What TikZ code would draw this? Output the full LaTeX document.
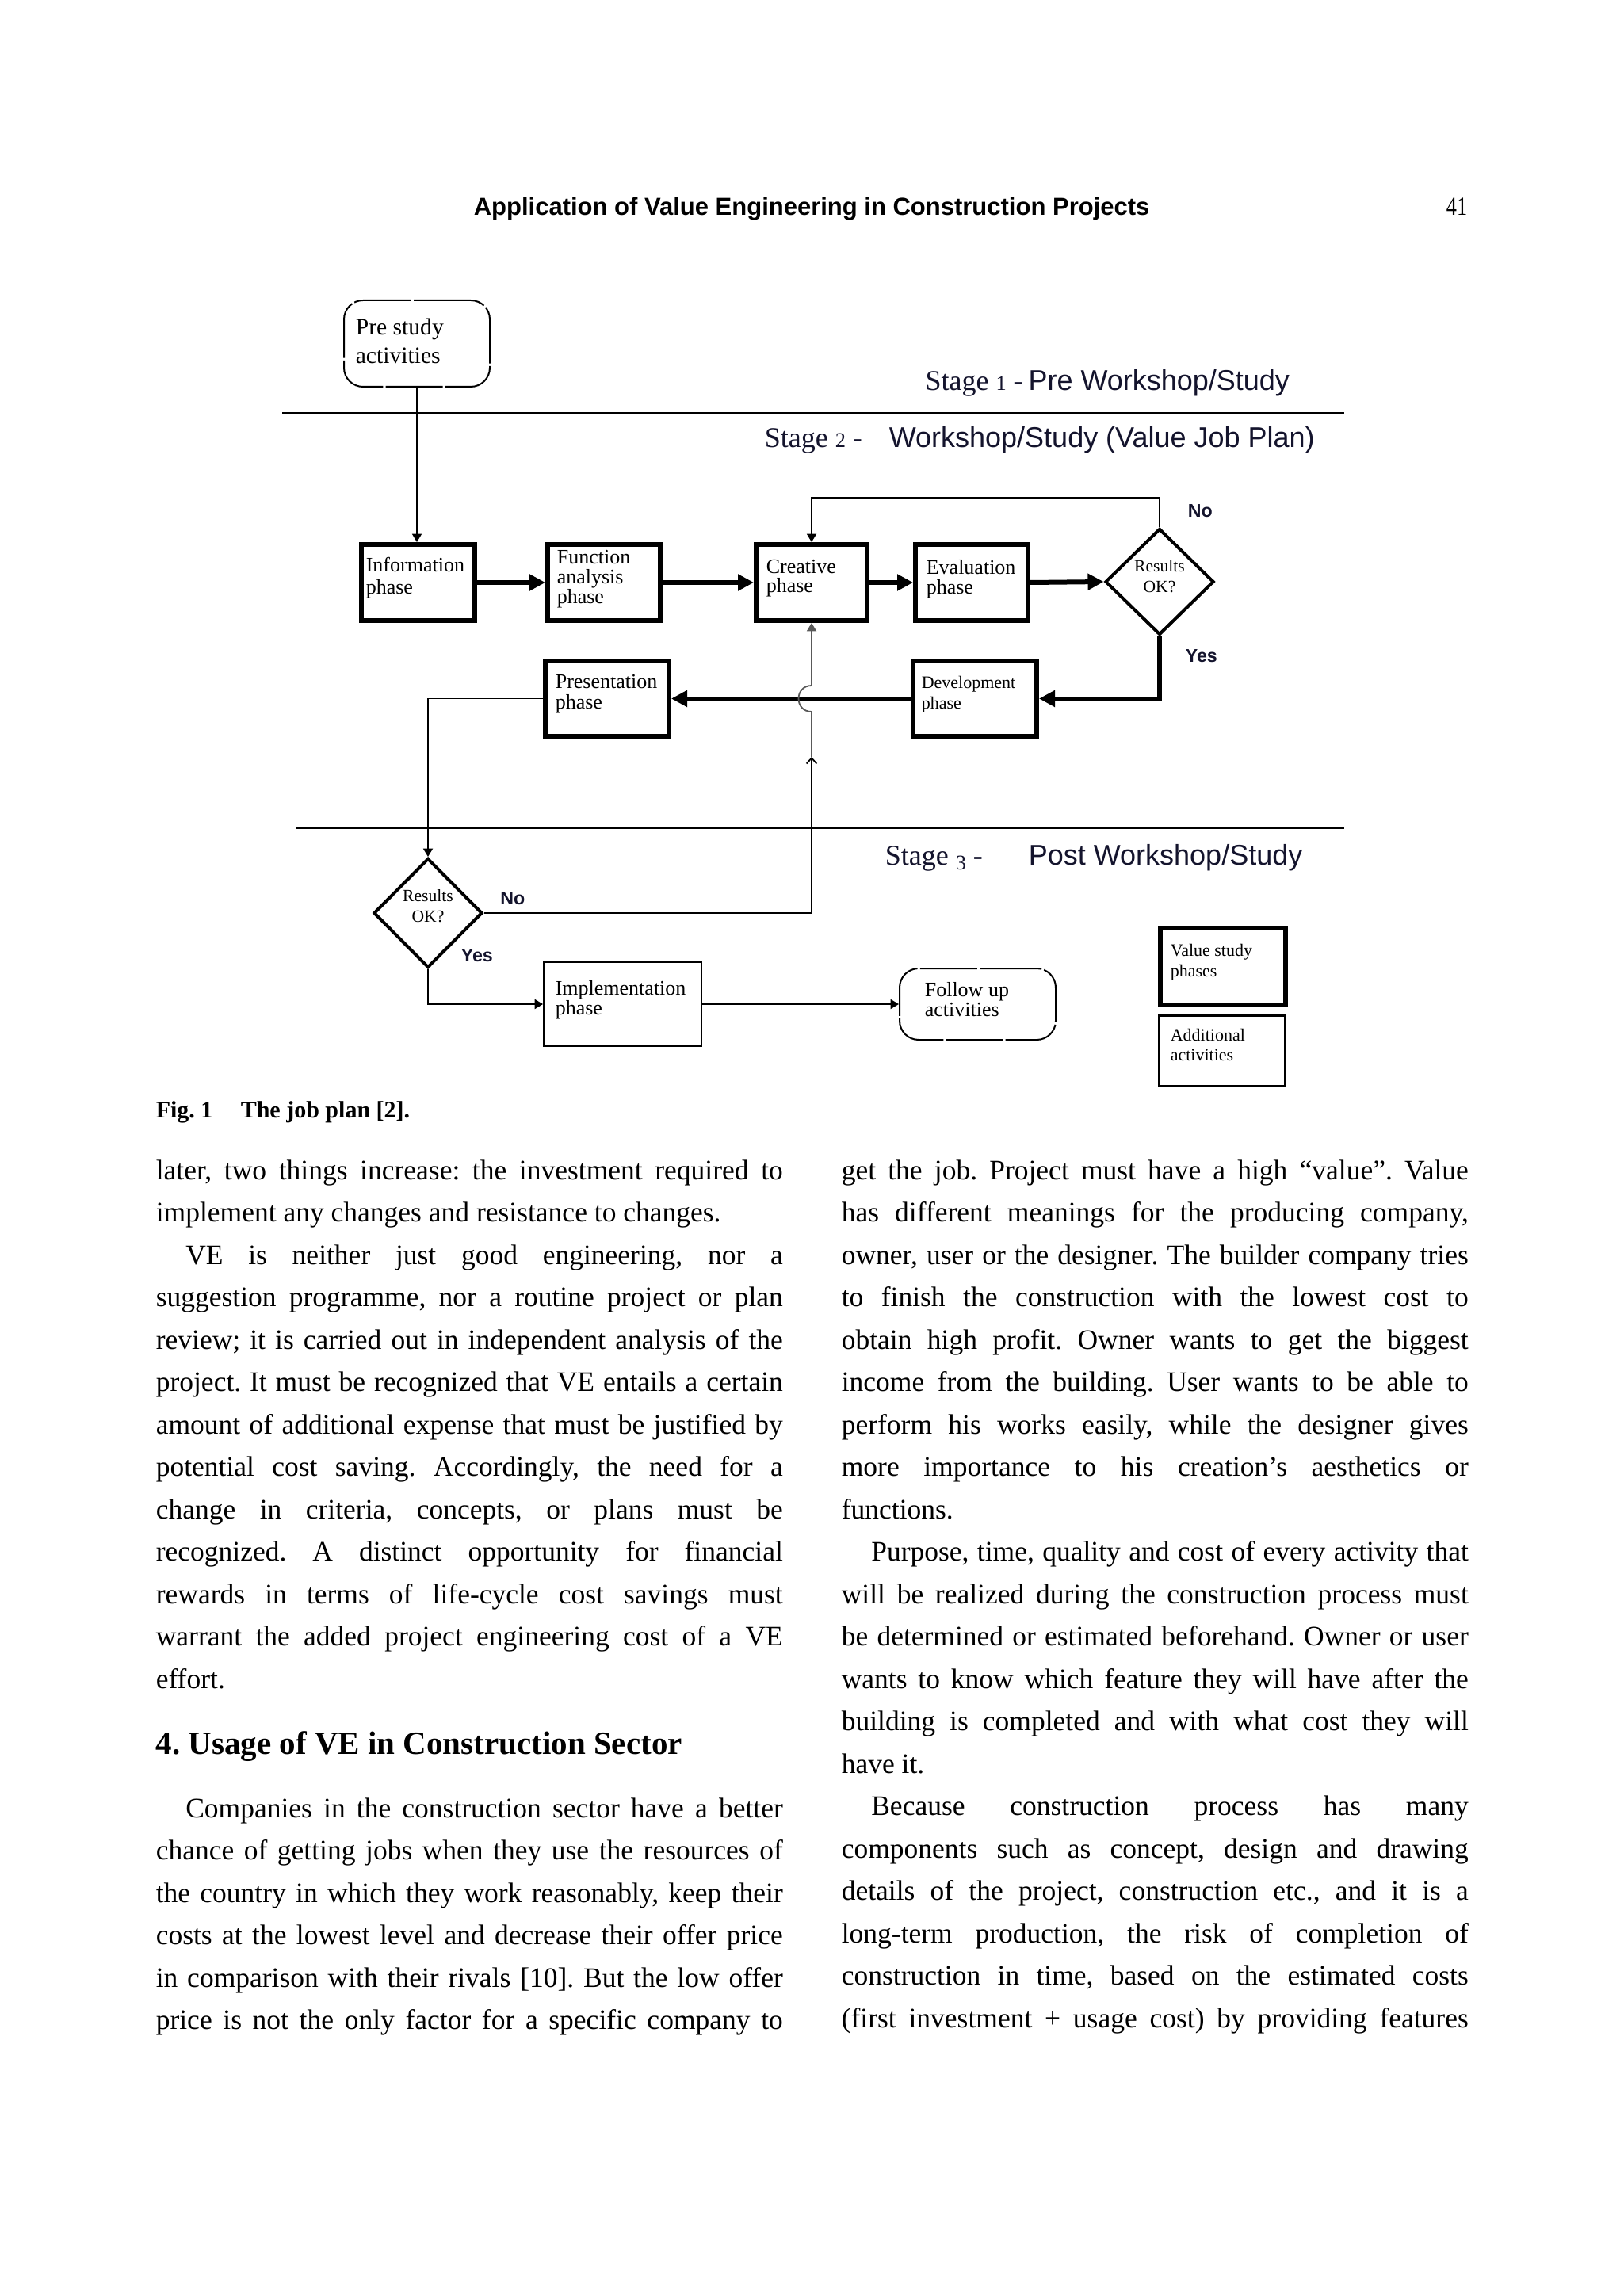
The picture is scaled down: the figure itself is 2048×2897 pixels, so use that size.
\documentclass[tikz,border=0pt]{standalone}
\usepackage{fontspec}
\usepackage{graphicx}
\setmainfont{Liberation Serif}
\newfontfamily\arialf{Liberation Sans}
\usetikzlibrary{arrows.meta,shapes.geometric}
\frenchspacing
\newcommand{\oldn}[1]{{\fontsize{6.6pt}{7pt}\selectfont #1}}
\newcommand{\Jline}[4]{\node[bodyt] (#1) at (#2,#3) {\makebox[197.75pt][s]{#4}};}
\newcommand{\Iline}[4]{\node[bodyt] (#1) at ({#2+37.5},#3) {\makebox[188.375pt][s]{#4}};}
\newcommand{\Eline}[4]{\node[bodyt] (#1) at (#2,#3) {#4};}
\begin{document}
\begin{tikzpicture}[x=0.25pt,y=-0.25pt,
  tbox/.style={draw, line width=1.4pt, inner sep=0pt},
  nbox/.style={draw, line width=0.6pt, inner sep=0pt},
  rbox/.style={draw, line width=0.5pt, inner sep=0pt, rounded corners=6pt, dash pattern=on 18pt off 0.8pt},
  dia/.style={draw, shape=diamond, line width=1pt, inner sep=0pt},
  thickarr/.style={line width=1.5pt, -{Triangle[length=5pt,width=5pt]}},
  thinarr/.style={line width=0.45pt, -{Triangle[length=2.6pt,width=3pt]}},
  stageline/.style={line width=0.6pt},
  bx/.style={anchor=base west, inner sep=0pt, font=\fontsize{6.5pt}{7pt}\selectfont},
  sbx/.style={anchor=base west, inner sep=0pt, font=\fontsize{5.5pt}{6pt}\selectfont},
  rx/.style={anchor=base, inner sep=0pt, font=\fontsize{5.4pt}{6pt}\selectfont},
  yn/.style={anchor=base west, inner sep=0pt, font=\arialf\bfseries\fontsize{5.8pt}{6pt}\selectfont, text={rgb,255:red,20;green,20;blue,45}},
  stg/.style={anchor=base west, inner sep=0pt, font=\fontsize{9pt}{10pt}\selectfont, text={rgb,255:red,20;green,20;blue,45}},
  stgs/.style={anchor=base west, inner sep=0pt, font=\arialf\fontsize{9pt}{10pt}\selectfont, text={rgb,255:red,20;green,20;blue,45}},
  bodyt/.style={anchor=base west, inner sep=0pt, font=\fontsize{8.875pt}{10pt}\selectfont}
]
\useasboundingbox (0,0) rectangle (2048,2897);
\fill[white] (0,0) rectangle (2048,2897);

% header
\node[anchor=base west, inner sep=0pt, font=\arialf\bfseries\fontsize{7.75pt}{8pt}\selectfont] (hdr) at (597,272) {Application of Value Engineering in Construction Projects};
\node[anchor=base east, inner sep=0pt, font=\fontsize{8.2pt}{9pt}\selectfont] (pg) at (1852,272) {\scalebox{0.8}[1]{41}};

% stage lines
\coordinate (s1a) at (356,521);
\coordinate (s1b) at (1696,521);
\coordinate (s3a) at (373,1045);
\coordinate (s3b) at (1696,1045);
\draw[stageline] (s1a) -- (s1b);
\draw[stageline] (s3a) -- (s3b);

% stage texts
\node[stg] (st1a) at (1166.7,493) {Stage \oldn{1} -};
\node[stgs] (st1b) at (1296.7,493) {Pre Workshop/Study};
\node[stg] (st2a) at (964,565) {Stage \oldn{2} -};
\node[stgs] (st2b) at (1121,565) {Workshop/Study (Value Job Plan)};
\node[stg] (st3a) at (1116,1091) {Stage \raisebox{-1.6pt}{\oldn{3}} -};
\node[stgs] (st3b) at (1297,1091) {Post Workshop/Study};

% boxes
\node[rbox, minimum width=46pt, minimum height=27.25pt] (pre) at (526,433.5) {};
\node[tbox, minimum width=35.85pt, minimum height=24.1pt] (info) at (527.5,735) {};
\node[tbox, minimum width=35.6pt, minimum height=24.1pt] (func) at (762,735) {};
\node[tbox, minimum width=35.1pt, minimum height=24.1pt] (crea) at (1024,735) {};
\node[tbox, minimum width=35.6pt, minimum height=24.1pt] (eval) at (1226,735) {};
\node[dia, minimum width=34.25pt, minimum height=33.5pt] (d1) at (1463,734) {};
\node[tbox, minimum width=39.1pt, minimum height=23.85pt] (pres) at (766,881.5) {};
\node[tbox, minimum width=39.1pt, minimum height=23.85pt] (dev) at (1230,881.5) {};
\node[dia, minimum width=34.25pt, minimum height=34.5pt] (d2) at (540,1152) {};
\node[nbox, minimum width=49.6pt, minimum height=26.4pt] (impl) at (785.5,1267) {};
\node[rbox, minimum width=49.25pt, minimum height=22.5pt] (foll) at (1233.5,1267) {};
\node[tbox, minimum width=39.6pt, minimum height=24.35pt] (leg1) at (1543,1219.5) {};
\node[nbox, minimum width=39.6pt, minimum height=22.1pt] (leg2) at (1541.5,1325.5) {};

% box texts
\node[bx, font=\fontsize{7.4pt}{8pt}\selectfont] (t1) at (448,423) {Pre study};
\node[bx, font=\fontsize{7.4pt}{8pt}\selectfont] (t2) at (448,459) {activities};
\node[bx] (t3) at (461,722) {Information};
\node[bx] (t4) at (461,750) {phase};
\node[bx] (t5) at (702,712) {Function};
\node[bx] (t6) at (702,737) {analysis};
\node[bx] (t7) at (702,762) {phase};
\node[bx] (t8) at (966,724) {Creative};
\node[bx] (t9) at (966,748) {phase};
\node[bx] (t10) at (1168,725) {Evaluation};
\node[bx] (t11) at (1168,750) {phase};
\node[rx] (t12) at (1463,722) {Results};
\node[rx] (t13) at (1463,748) {OK?};
\node[bx] (t14) at (700,869) {Presentation};
\node[bx] (t15) at (700,894) {phase};
\node[sbx] (t16) at (1162,869) {Development};
\node[sbx] (t17) at (1162,894) {phase};
\node[rx] (t18) at (540,1137) {Results};
\node[rx] (t19) at (540,1163.5) {OK?};
\node[bx] (t20) at (700,1255) {Implementation};
\node[bx] (t21) at (700,1280) {phase};
\node[bx] (t22) at (1166,1257) {Follow up};
\node[bx] (t23) at (1166,1282) {activities};
\node[sbx] (t24) at (1476,1206) {Value study};
\node[sbx] (t25) at (1476,1232) {phases};
\node[sbx] (t26) at (1476,1313) {Additional};
\node[sbx] (t27) at (1476,1338) {activities};

% yes / no labels
\node[yn] (no1) at (1498,653) {No};
\node[yn] (yes1) at (1495,835) {Yes};
\node[yn] (no2) at (630.5,1141) {No};
\node[yn] (yes2) at (581,1213) {Yes};

% connectors
\draw[thinarr] (pre.south) -- (pre.south |- info.north);
\draw[thickarr] (info.east) -- (func.west);
\draw[thickarr] (func.east) -- (crea.west);
\draw[thickarr] (crea.east) -- (eval.west);
\draw[thickarr] (eval.east) -- (d1.west);
\coordinate (nl) at (1463,628);
\draw[thinarr] (d1.north) -- (nl) -| (crea.north);
\draw[thickarr] (d1.south) |- (dev.east);
\draw[thickarr] (dev.west) -- (pres.east);
\draw[thinarr] (pres.west) -| (d2.north);
\coordinate (mid) at (1024,955);
\coordinate (hb) at (1024,898);
\coordinate (ht) at (1024,865);
\draw[line width=0.45pt, -{Straight Barb[length=1.8pt,width=3.2pt]}] (d2.east) -| (mid);
\draw[line width=0.45pt, draw=black!65, -{Triangle[length=2.6pt,width=3pt]}] (mid) -- (hb) .. controls (1002,898) and (1002,865) .. (ht) -- (crea.south);
\draw[thinarr] (d2.south) |- (impl.west);
\draw[thinarr] (impl.east) -- (foll.west);

% caption
\node[anchor=base west, inner sep=0pt, font=\bfseries\fontsize{7.5pt}{8pt}\selectfont] (fig) at (196,1410) {Fig. 1};
\node[anchor=base west, inner sep=0pt, font=\bfseries\fontsize{7.5pt}{8pt}\selectfont] (figt) at (303,1410) {The job plan [2].};

% left column
\Jline{l0}{196}{1488}{later, two things increase: the investment required to}
\Eline{l1}{196}{1541.5}{implement any changes and resistance to changes.}
\Iline{l2}{196}{1595}{VE is neither just good engineering, nor a}
\Jline{l3}{196}{1648.5}{suggestion programme, nor a routine project or plan}
\Jline{l4}{196}{1702}{review; it is carried out in independent analysis of the}
\Jline{l5}{196}{1755.5}{project. It must be recognized that VE entails a certain}
\Jline{l6}{196}{1809}{amount of additional expense that must be justified by}
\Jline{l7}{196}{1862.5}{potential cost saving. Accordingly, the need for a}
\Jline{l8}{196}{1916}{change in criteria, concepts, or plans must be}
\Jline{l9}{196}{1969.5}{recognized. A distinct opportunity for financial}
\Jline{l10}{196}{2023}{rewards in terms of life-cycle cost savings must}
\Jline{l11}{196}{2076.5}{warrant the added project engineering cost of a VE}
\Eline{l12}{196}{2130}{effort.}
\node[anchor=base west, inner sep=0pt, font=\bfseries\fontsize{10.25pt}{12pt}\selectfont] (sec) at (196,2213) {4. Usage of VE in Construction Sector};
\Iline{h0}{196}{2293}{Companies in the construction sector have a better}
\Jline{h1}{196}{2346.5}{chance of getting jobs when they use the resources of}
\Jline{h2}{196}{2400}{the country in which they work reasonably, keep their}
\Jline{h3}{196}{2453.5}{costs at the lowest level and decrease their offer price}
\Jline{h4}{196}{2507}{in comparison with their rivals [10]. But the low offer}
\Jline{h5}{196}{2560.5}{price is not the only factor for a specific company to}

% right column
\Jline{r0}{1061}{1488}{get the job. Project must have a high “value”. Value}
\Jline{r1}{1061}{1541.5}{has different meanings for the producing company,}
\Jline{r2}{1061}{1595}{owner, user or the designer. The builder company tries}
\Jline{r3}{1061}{1648.5}{to finish the construction with the lowest cost to}
\Jline{r4}{1061}{1702}{obtain high profit. Owner wants to get the biggest}
\Jline{r5}{1061}{1755.5}{income from the building. User wants to be able to}
\Jline{r6}{1061}{1809}{perform his works easily, while the designer gives}
\Jline{r7}{1061}{1862.5}{more importance to his creation’s aesthetics or}
\Eline{r8}{1061}{1916}{functions.}
\Iline{r9}{1061}{1969.5}{Purpose, time, quality and cost of every activity that}
\Jline{r10}{1061}{2023}{will be realized during the construction process must}
\Jline{r11}{1061}{2076.5}{be determined or estimated beforehand. Owner or user}
\Jline{r12}{1061}{2130}{wants to know which feature they will have after the}
\Jline{r13}{1061}{2183.5}{building is completed and with what cost they will}
\Eline{r14}{1061}{2237}{have it.}
\Iline{r15}{1061}{2290.5}{Because construction process has many}
\Jline{r16}{1061}{2344}{components such as concept, design and drawing}
\Jline{r17}{1061}{2397.5}{details of the project, construction etc., and it is a}
\Jline{r18}{1061}{2451}{long-term production, the risk of completion of}
\Jline{r19}{1061}{2504.5}{construction in time, based on the estimated costs}
\Jline{r20}{1061}{2558}{(first investment + usage cost) by providing features}
\end{tikzpicture}
\end{document}
